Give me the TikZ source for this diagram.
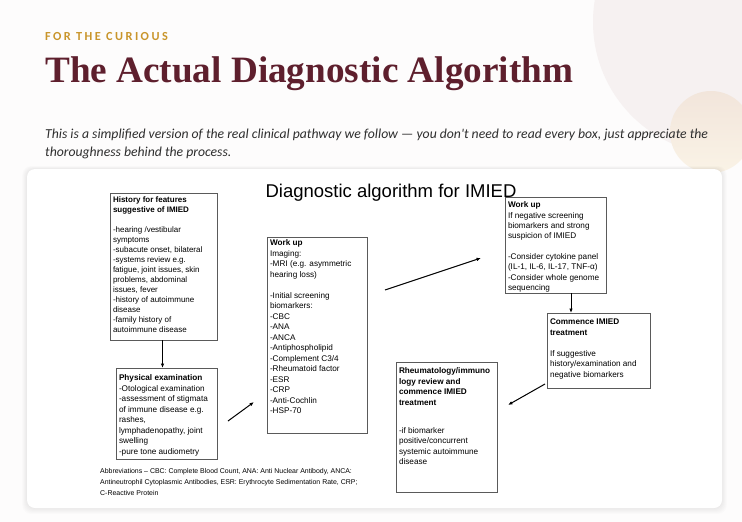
\documentclass[tikz,border=0pt]{standalone}
\usepackage{fontspec}
\setmainfont{Liberation Sans}
\newfontfamily\titlefont{Liberation Serif}
\newfontfamily\subfont{Carlito}
\usetikzlibrary{arrows.meta,calc}
\definecolor{titlecol}{HTML}{5E1F2D}
\definecolor{goldcol}{HTML}{C9952B}
\definecolor{subcol}{HTML}{2E2E2E}
\definecolor{bigcirc}{HTML}{F6F1F1}
\definecolor{smallcircA}{HTML}{F2E5DB}
\definecolor{smallcircB}{HTML}{FAF3E6}
\definecolor{pagebg}{HTML}{FDFCFC}
\definecolor{boxline}{HTML}{5A5A5A}
\tikzset{
  flowbox/.style={draw=boxline, line width=0.8pt, fill=white, inner xsep=3pt, inner ysep=0pt, outer sep=0pt, anchor=north west, align=left},
  flowarrow/.style={line width=1pt, -{Latex[length=4.5pt,width=3.5pt]}},
}
\newcommand{\boxfont}{\fontsize{8.2}{10.5}\selectfont}
\newcommand{\mkbox}[7]{% name, x, y, w, h, top pad, content
  \node[flowbox] (#1) at (#2,#3) {\parbox[c][#5pt][t]{\dimexpr#4pt-6pt\relax}{\vspace*{#6pt}\boxfont\raggedright #7\par}};}
\begin{document}
\begin{tikzpicture}[x=1pt,y=-1pt]
\useasboundingbox (0,0) rectangle (742,522);
\fill[pagebg] (0,0) rectangle (742,522);
% decorative circles
\begin{scope}
\clip (0,0) rectangle (742,522);
\fill[bigcirc] (726,22) circle (133);
\shade[top color=smallcircA, bottom color=smallcircB] (711,132) circle (41);
\end{scope}
% header texts
\node[anchor=west, inner sep=0pt, text=goldcol] (kicker) at (45,37)
  {\subfont\bfseries\addfontfeature{LetterSpace=20}\fontsize{12.3}{14}\selectfont FOR THE CURIOUS};
\node[anchor=base west, inner sep=0pt, text=titlecol] (title) at (45,82)
  {\titlefont\bfseries\fontsize{37.2}{40}\selectfont The Actual Diagnostic Algorithm};
\node[anchor=base west, inner sep=0pt, text=subcol] (sub1) at (45,138)
  {\subfont\itshape\fontsize{13.7}{16}\selectfont This is a simplified version of the real clinical pathway we follow — you don't need to read every box, just appreciate the};
\node[anchor=base west, inner sep=0pt, text=subcol] (sub2) at (45,156)
  {\subfont\itshape\fontsize{13.7}{16}\selectfont thoroughness behind the process.};
% card shadow
\foreach \i in {1,...,6}{
  \fill[black, opacity=0.012, rounded corners=9pt] ($(27,169)+(-\i*0.8,-\i*0.5)$) rectangle ($(722,508)+(\i*0.8,\i*1.0)$);
}
\fill[white, rounded corners=8pt] (27,169) rectangle (722,508);
% boxes
\mkbox{hist}{110}{193}{107}{147}{4}{\fontsize{8}{10}\selectfont\textbf{History for features\\suggestive of IMIED}\\[10pt]
-hearing /vestibular\\symptoms\\-subacute onset, bilateral\\-systems review e.g.\\fatigue, joint issues, skin\\problems, abdominal\\issues, fever\\-history of autoimmune\\disease\\-family history of\\autoimmune disease}
\mkbox{phys}{116}{368}{101}{91}{7}{\textbf{Physical examination}\\-Otological examination\\-assessment of stigmata\\of immune disease e.g.\\rashes,\\lymphadenopathy, joint\\swelling\\-pure tone audiometry}
\mkbox{work}{267}{237}{100}{196}{3}{\textbf{Work up}\\Imaging:\\-MRI (e.g. asymmetric\\hearing loss)\\[10.5pt]
-Initial screening\\biomarkers:\\-CBC\\-ANA\\-ANCA\\-Antiphospholipid\\-Complement C3/4\\-Rheumatoid factor\\-ESR\\-CRP\\-Anti-Cochlin\\-HSP-70}
\mkbox{worktwo}{505}{197}{101}{96}{5}{\fontsize{8.2}{10.3}\selectfont\textbf{Work up}\\If negative screening\\biomarkers and strong\\suspicion of IMIED\\[10.3pt]
-Consider cytokine panel\\(IL-1, IL-6, IL-17, TNF-α)\\-Consider whole genome\\sequencing}
\mkbox{commence}{547}{313}{103}{75}{6}{\textbf{Commence IMIED\\treatment}\\[10.5pt]
If suggestive\\history/examination and\\negative biomarkers}
\mkbox{rheum}{396}{362}{101}{130}{6}{\textbf{Rheumatology/immuno\\logy review and\\commence IMIED\\treatment}\\[17.5pt]
-if biomarker\\positive/concurrent\\systemic autoimmune\\disease}
% diagram heading (drawn over the boxes)
\node[inner sep=0pt] (dtitle) at (391,193) {\fontsize{18.5}{20}\selectfont Diagnostic algorithm for IMIED};
% abbreviations
\node[anchor=north west, inner sep=0pt, align=left, font=\fontsize{6.95}{10.9}\selectfont] (abbr) at (100,468)
  {Abbreviations – CBC: Complete Blood Count, ANA: Anti Nuclear Antibody, ANCA:\\
  Antineutrophil Cytoplasmic Antibodies, ESR: Erythrocyte Sedimentation Rate, CRP;\\C-Reactive Protein};
% connectors
\draw[flowarrow] ([xshift=-1pt]hist.south) -- ([xshift=-1pt]hist.south |- phys.north);
\coordinate (a2s) at (228,421);
\coordinate (a2e) at (254,402);
\draw[flowarrow] (a2s) -- (a2e);
\coordinate (a3s) at (385,290);
\coordinate (a3e) at (481,258);
\draw[flowarrow] (a3s) -- (a3e);
\draw[flowarrow] ([xshift=15.5pt]worktwo.south) -- ([xshift=15.5pt]worktwo.south |- commence.north);
\coordinate (a5s) at (545,384);
\coordinate (a5e) at (508,405);
\draw[flowarrow] (a5s) -- (a5e);
\end{tikzpicture}
\end{document}
